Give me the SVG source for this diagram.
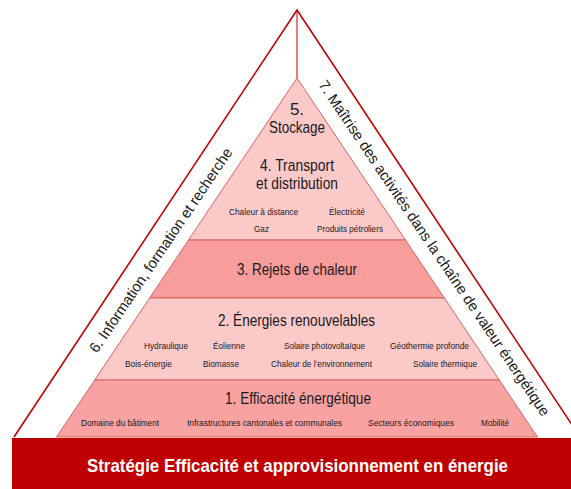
<svg xmlns="http://www.w3.org/2000/svg" width="571" height="489" viewBox="0 0 571 489">
<style>
text{font-family:"Liberation Sans",Arial,sans-serif;fill:#1a1a1a}
.t{font-size:17px}
.s{font-size:9.5px}
.r{font-size:15px;text-anchor:middle}
.b{font-size:19px;font-weight:bold;fill:#ffffff}
.lay{stroke:#d96464;stroke-width:1}
.light{fill:#fcc9c9}
.mid{fill:#f99c9c}
.mid2{fill:#f9a2a2}
</style>
<rect x="0" y="0" width="571" height="489" fill="#ffffff"/>
<g id="outer-frame">
<polyline points="14,437 297,10 580,437" fill="none" stroke="#c00000" stroke-width="1.6"/>
</g>
<g id="connectors">
<line x1="297" y1="10" x2="297" y2="78" stroke="#c00000" stroke-width="1"/>
</g>
<g id="layer-5-4">
<polygon class="lay light" points="297,78 405.5,240 188.5,240"/>
<text class="t" x="297" y="115" text-anchor="middle">5.</text>
<text class="t" x="269" y="133" textLength="56" lengthAdjust="spacingAndGlyphs">Stockage</text>
<text class="t" x="260" y="171" textLength="74" lengthAdjust="spacingAndGlyphs">4. Transport</text>
<text class="t" x="256" y="189" textLength="82" lengthAdjust="spacingAndGlyphs">et distribution</text>
<text class="s" x="229" y="215" textLength="69" lengthAdjust="spacingAndGlyphs">Chaleur à distance</text>
<text class="s" x="329" y="215" textLength="36" lengthAdjust="spacingAndGlyphs">Électricité</text>
<text class="s" x="254" y="232" textLength="15" lengthAdjust="spacingAndGlyphs">Gaz</text>
<text class="s" x="317" y="232" textLength="66" lengthAdjust="spacingAndGlyphs">Produits pétroliers</text>
</g>
<g id="layer-3">
<polygon class="lay mid" points="188.5,240 405.5,240 444.4,298 149.6,298"/>
<text class="t" x="237" y="275" textLength="120" lengthAdjust="spacingAndGlyphs">3. Rejets de chaleur</text>
</g>
<g id="layer-2">
<polygon class="lay light" points="149.6,298 444.4,298 499.3,380 94.7,380"/>
<text class="t" x="218" y="326" textLength="157" lengthAdjust="spacingAndGlyphs">2. Énergies renouvelables</text>
<text class="s" x="144" y="349" textLength="44" lengthAdjust="spacingAndGlyphs">Hydraulique</text>
<text class="s" x="213" y="349" textLength="32" lengthAdjust="spacingAndGlyphs">Éolienne</text>
<text class="s" x="284" y="349" textLength="81" lengthAdjust="spacingAndGlyphs">Solaire photovoltaïque</text>
<text class="s" x="390" y="349" textLength="79" lengthAdjust="spacingAndGlyphs">Géothermie profonde</text>
<text class="s" x="125" y="367" textLength="47" lengthAdjust="spacingAndGlyphs">Bois-énergie</text>
<text class="s" x="203" y="367" textLength="36" lengthAdjust="spacingAndGlyphs">Biomasse</text>
<text class="s" x="271" y="367" textLength="101" lengthAdjust="spacingAndGlyphs">Chaleur de l’environnement</text>
<text class="s" x="413" y="367" textLength="64" lengthAdjust="spacingAndGlyphs">Solaire thermique</text>
</g>
<g id="layer-1">
<polygon class="lay mid2" points="94.7,380 499.3,380 537.5,437 56.5,437"/>
<text class="t" x="225" y="404" textLength="146" lengthAdjust="spacingAndGlyphs">1. Efficacité énergétique</text>
<text class="s" x="81" y="426" textLength="78" lengthAdjust="spacingAndGlyphs">Domaine du bâtiment</text>
<text class="s" x="187" y="426" textLength="155" lengthAdjust="spacingAndGlyphs">Infrastructures cantonales et communales</text>
<text class="s" x="368" y="426" textLength="86" lengthAdjust="spacingAndGlyphs">Secteurs économiques</text>
<text class="s" x="481" y="426" textLength="28" lengthAdjust="spacingAndGlyphs">Mobilité</text>
</g>
<g id="pillar-6">
<text class="r" transform="translate(165,253) rotate(-56)" x="0" y="0" textLength="243" lengthAdjust="spacingAndGlyphs">6. Information, formation et recherche</text>
</g>
<g id="pillar-7">
<text class="r" transform="translate(430,251) rotate(56)" x="0" y="0" textLength="401" lengthAdjust="spacingAndGlyphs">7. Maîtrise des activités dans la chaîne de valeur énergétique</text>
</g>
<g id="strategy-bar">
<rect x="12" y="438" width="559" height="51" fill="#c00000"/>
<text class="b" x="87" y="472" textLength="421" lengthAdjust="spacingAndGlyphs">Stratégie Efficacité et approvisionnement en énergie</text>
</g>
</svg>
